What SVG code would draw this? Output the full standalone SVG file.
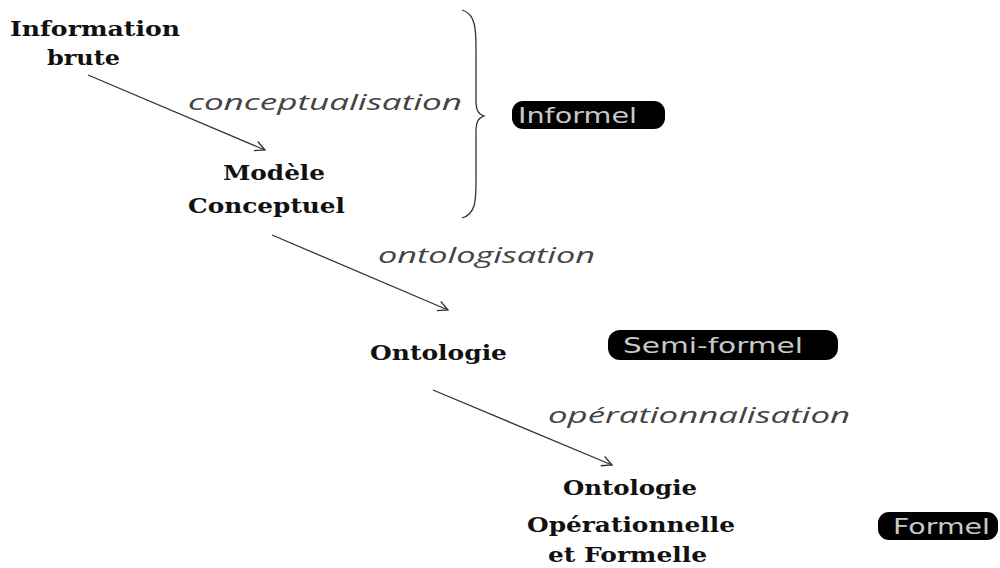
<svg xmlns="http://www.w3.org/2000/svg" width="1000" height="568" viewBox="0 0 1000 568">
  <style>
    .node { font-family: "DejaVu Serif", "Liberation Serif", serif; font-weight: bold; font-size: 20px; fill: #111; }
    .step { font-family: "Open Sans", "DejaVu Sans", sans-serif; font-style: italic; font-size: 22px; fill: #444; }
    .badge rect { fill: #000; }
    .badge text { font-family: "DejaVu Sans", "Liberation Sans", sans-serif; font-size: 21px; fill: #c8c8c8; }
    .edge { stroke: #333; stroke-width: 1.3; fill: none; marker-end: url(#chev); }
  </style>
  <defs>
    <marker id="chev" viewBox="0 0 12 12" refX="11" refY="6" markerWidth="12" markerHeight="12" markerUnits="userSpaceOnUse" orient="auto">
      <path d="M1,1 L11,6 L1,11" fill="none" stroke="#333" stroke-width="1.3"/>
    </marker>
  </defs>
  <rect width="1000" height="568" fill="#fff"/>

  <g id="connectors">
    <line class="edge" x1="88" y1="75" x2="265" y2="150"/>
    <line class="edge" x1="272" y1="235" x2="448" y2="310"/>
    <line class="edge" x1="433" y1="390" x2="612" y2="465"/>
    <!-- brace grouping the informal stages -->
    <path d="M462,10 C476,14 476,30 476,50 L476,100 C476,110 478,114 484,116 C478,118 476,122 476,132 L476,180 C476,200 476,214 462,218" fill="none" stroke="#333" stroke-width="1.3"/>
  </g>

  <g id="info-brute">
    <text class="node" x="10" y="36" textLength="170" lengthAdjust="spacingAndGlyphs">Information</text>
    <text class="node" x="47" y="65" textLength="73" lengthAdjust="spacingAndGlyphs">brute</text>
  </g>
  <g id="modele-conceptuel">
    <text class="node" x="223" y="180" textLength="102" lengthAdjust="spacingAndGlyphs">Modèle</text>
    <text class="node" x="188" y="213" textLength="157" lengthAdjust="spacingAndGlyphs">Conceptuel</text>
  </g>
  <g id="ontologie">
    <text class="node" x="370" y="360" textLength="137" lengthAdjust="spacingAndGlyphs">Ontologie</text>
  </g>
  <g id="ontologie-operationnelle">
    <text class="node" x="563" y="495" textLength="134" lengthAdjust="spacingAndGlyphs">Ontologie</text>
    <text class="node" x="527" y="532" textLength="208" lengthAdjust="spacingAndGlyphs">Opérationnelle</text>
    <text class="node" x="548" y="562" textLength="159" lengthAdjust="spacingAndGlyphs">et Formelle</text>
  </g>

  <g id="labels">
    <text class="step" x="188" y="110" textLength="274" lengthAdjust="spacingAndGlyphs">conceptualisation</text>
    <text class="step" x="378" y="263" textLength="217" lengthAdjust="spacingAndGlyphs">ontologisation</text>
    <text class="step" x="548" y="423" textLength="302" lengthAdjust="spacingAndGlyphs">opérationnalisation</text>
  </g>

  <g id="badge-informel" class="badge">
    <rect x="512" y="101" width="153" height="28" rx="11"/>
    <text x="518" y="123" textLength="119" lengthAdjust="spacingAndGlyphs">Informel</text>
  </g>
  <g id="badge-semi-formel" class="badge">
    <rect x="608" y="330" width="230" height="30" rx="12"/>
    <text x="623" y="353" textLength="180" lengthAdjust="spacingAndGlyphs">Semi-formel</text>
  </g>
  <g id="badge-formel" class="badge">
    <rect x="878" y="512" width="120" height="28" rx="11"/>
    <text x="893" y="534" textLength="97" lengthAdjust="spacingAndGlyphs">Formel</text>
  </g>
</svg>
